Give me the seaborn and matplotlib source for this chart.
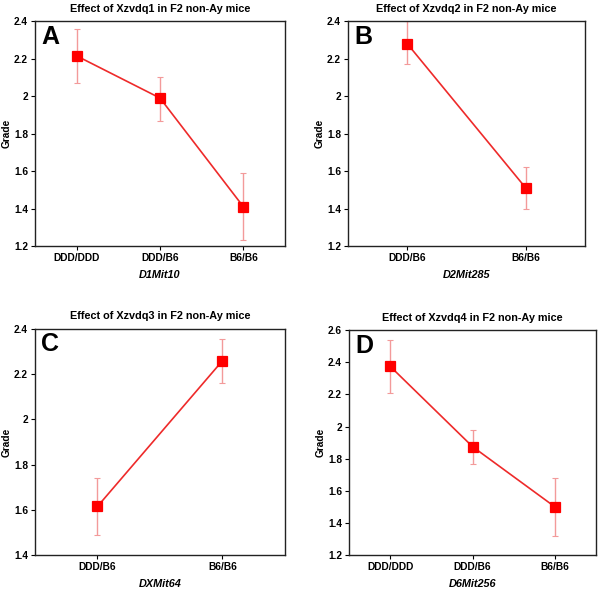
import matplotlib
matplotlib.use("Agg")
import matplotlib.pyplot as plt
import seaborn as sns
from matplotlib.ticker import FuncFormatter

# Panel data: genotype categories, mean grade, lower / upper error limits
cats_a = ["DDD/DDD", "DDD/B6", "B6/B6"]
mean_a = [2.215, 1.99, 1.41]
low_a = [2.07, 1.87, 1.23]
high_a = [2.36, 2.10, 1.59]

cats_b = ["DDD/B6", "B6/B6"]
mean_b = [2.28, 1.51]
low_b = [2.17, 1.40]
high_b = [2.40, 1.62]

cats_c = ["DDD/B6", "B6/B6"]
mean_c = [1.615, 2.26]
low_c = [1.49, 2.16]
high_c = [1.74, 2.355]

cats_d = ["DDD/DDD", "DDD/B6", "B6/B6"]
mean_d = [2.375, 1.875, 1.50]
low_d = [2.21, 1.765, 1.32]
high_d = [2.54, 1.98, 1.68]

sns.set_style("white")
plt.rcParams["font.family"] = ["Liberation Sans", "DejaVu Sans"]
plt.rcParams["text.color"] = "black"
plt.rcParams["axes.labelcolor"] = "black"
plt.rcParams["xtick.color"] = "black"
plt.rcParams["ytick.color"] = "black"

fig = plt.figure(figsize=(6.0, 5.9), dpi=100)

panels = [
    # letter, title, xlabel, cats, mean, low, high, ylim, yticks, axes rect
    ("A", "Effect of Xzvdq1 in F2 non-Ay mice", "D1Mit10", cats_a, mean_a, low_a, high_a,
     (1.2, 2.4), [1.2, 1.4, 1.6, 1.8, 2.0, 2.2, 2.4], [0.0583, 0.583, 0.4167, 0.381]),
    ("B", "Effect of Xzvdq2 in F2 non-Ay mice", "D2Mit285", cats_b, mean_b, low_b, high_b,
     (1.2, 2.4), [1.2, 1.4, 1.6, 1.8, 2.0, 2.2, 2.4], [0.580, 0.583, 0.395, 0.381]),
    ("C", "Effect of Xzvdq3 in F2 non-Ay mice", "DXMit64", cats_c, mean_c, low_c, high_c,
     (1.4, 2.4), [1.4, 1.6, 1.8, 2.0, 2.2, 2.4], [0.0583, 0.0593, 0.4167, 0.383]),
    ("D", "Effect of Xzvdq4 in F2 non-Ay mice", "D6Mit256", cats_d, mean_d, low_d, high_d,
     (1.2, 2.6), [1.2, 1.4, 1.6, 1.8, 2.0, 2.2, 2.4, 2.6], [0.5817, 0.0593, 0.4117, 0.381]),
]

for letter, title, xlabel, cats, mean, low, high, ylim, yticks, rect in panels:
    ax = fig.add_axes(rect)
    n = len(cats)
    yerr = [[m - l for m, l in zip(mean, low)], [h - m for m, h in zip(mean, high)]]
    ax.errorbar(range(n), mean, yerr=yerr, fmt="none", ecolor="#f39a9a",
                elinewidth=1.0, capsize=2, capthick=0.8, zorder=1)
    sns.pointplot(x=cats, y=mean, ax=ax, color="#ee2a2a", markers="s",
                  errorbar=None, linewidth=1.2, markersize=6.5, zorder=3)
    for ln in ax.lines:
        if ln.get_marker() == "s":
            ln.set_markerfacecolor("#ff0000")
            ln.set_markeredgecolor("#ff0000")
    ax.set_xlim(-0.5, n - 0.5)
    ax.set_ylim(*ylim)
    ax.set_yticks(yticks)
    ax.yaxis.set_major_formatter(FuncFormatter(lambda v, p: f"{v:g}"))
    ax.tick_params(axis="both", direction="out", length=3, width=0.8, pad=2,
                   labelsize=7.3, color="black", left=True, bottom=True)
    for lab in ax.get_xticklabels() + ax.get_yticklabels():
        lab.set_fontweight("bold")
    for sp in ax.spines.values():
        sp.set_visible(True)
        sp.set_color("#222222")
        sp.set_linewidth(1.0)
    ax.set_title(title, fontsize=7.8, fontweight="bold", pad=7)
    ax.set_ylabel("Grade", fontsize=7.3, fontweight="bold", labelpad=2)
    ax.set_xlabel(xlabel, fontsize=7.8, fontweight="bold", style="italic", labelpad=5)
    ax.text(0.025, 0.985, letter, transform=ax.transAxes, fontsize=18,
            fontweight="bold", va="top", ha="left")

fig.savefig("out.png", dpi=100)
